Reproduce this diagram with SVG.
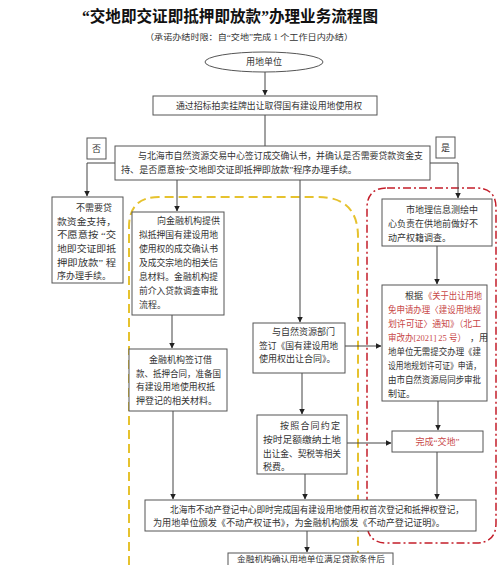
<svg xmlns="http://www.w3.org/2000/svg" width="500" height="565" viewBox="0 0 500 565">
<defs>
<marker id="ah" markerWidth="6" markerHeight="6" refX="5.5" refY="3" orient="auto" markerUnits="userSpaceOnUse"><path d="M0,0 L6,3 L0,6 z" fill="#222"/></marker>
<style>
text{font-family:"Liberation Serif","Noto Sans CJK SC",serif;fill:#333;font-size:9px}
.box{fill:#fff;stroke:#555;stroke-width:1}
.red{fill:#c84848}
.ln{fill:none;stroke:#444;stroke-width:1}
.arr{fill:none;stroke:#444;stroke-width:1;marker-end:url(#ah)}
</style>
</defs>
<rect width="500" height="565" fill="#fff"/>
<text x="230" y="22" text-anchor="middle" style="font-size:16px;font-weight:bold;fill:#111" textLength="296" lengthAdjust="spacingAndGlyphs">“交地即交证即抵押即放款”办理业务流程图</text>
<text x="249" y="40" text-anchor="middle" style="font-size:8.5px" textLength="208" lengthAdjust="spacingAndGlyphs">（承诺办结时限：自“交地”完成 1 个工作日内办结）</text>

<g id="frames">
<path d="M129,565 L129,227 Q129,197 159,197 L318,197 Q358,197 358,237 L358,565" fill="none" stroke="#e6c22e" stroke-width="2" stroke-dasharray="9,5"/>
<path d="M387,188 L476,188 Q496,188 496,208 L496,523 Q496,543 476,543 L387,543 Q367,543 367,523 L367,208 Q367,188 387,188 Z" fill="none" stroke="#c41e2a" stroke-width="1.5" stroke-dasharray="8,3,2,3"/>
</g>

<g id="connectors">
<line class="arr" x1="265" y1="72" x2="265" y2="95"/>
<line class="ln" x1="265" y1="115" x2="265" y2="146"/>
<polyline class="arr" points="115,163 87,163 87,196"/>
<line class="arr" x1="177" y1="180" x2="177" y2="211"/>
<line class="arr" x1="300" y1="180" x2="300" y2="322"/>
<polyline class="arr" points="430,163 458,163 458,198"/>
<line class="arr" x1="437" y1="246" x2="437" y2="284"/>
<line class="arr" x1="172" y1="315" x2="172" y2="348"/>
<line class="arr" x1="345" y1="346" x2="381" y2="346"/>
<line class="arr" x1="302" y1="373" x2="302" y2="414"/>
<line class="arr" x1="347" y1="443" x2="391" y2="443"/>
<line class="arr" x1="438" y1="401" x2="438" y2="430"/>
<line class="arr" x1="173" y1="411" x2="173" y2="499"/>
<line class="arr" x1="305" y1="474" x2="305" y2="499"/>
<line class="arr" x1="437" y1="452" x2="437" y2="499"/>
<line class="arr" x1="307" y1="531" x2="307" y2="552"/>
</g>

<g id="n-start">
<ellipse cx="264" cy="62" rx="59" ry="10" fill="#fff" stroke="#555"/>
<text x="264" y="65" text-anchor="middle">用地单位</text>
</g>

<g id="n-auction">
<rect class="box" x="153" y="96" width="224" height="19"/>
<text x="176" y="109" textLength="186" lengthAdjust="spacingAndGlyphs">通过招标拍卖挂牌出让取得国有建设用地使用权</text>
</g>

<g id="n-no">
<rect class="box" x="87" y="138" width="19" height="21"/>
<text x="96.5" y="152" text-anchor="middle">否</text>
</g>
<g id="n-yes">
<rect class="box" x="436" y="137" width="19" height="21"/>
<text x="445.5" y="151" text-anchor="middle">是</text>
</g>

<g id="n-confirm">
<rect class="box" x="115" y="146" width="315" height="34"/>
<text x="138" y="159" textLength="285" lengthAdjust="spacingAndGlyphs">与北海市自然资源交易中心签订成交确认书，并确认是否需要贷款资金支</text>
<text x="121" y="173" textLength="236" lengthAdjust="spacingAndGlyphs">持、是否愿意按“交地即交证即抵押即放款”程序办理手续。</text>
</g>

<g id="n-noloan">
<rect class="box" x="52" y="197" width="71" height="86"/>
<text x="76" y="211">不需要贷</text>
<text x="57" y="225" textLength="59" lengthAdjust="spacingAndGlyphs">款资金支持，</text>
<text x="57" y="238" textLength="59" lengthAdjust="spacingAndGlyphs">不愿意按 “交</text>
<text x="57" y="252" textLength="59" lengthAdjust="spacingAndGlyphs">地即交证即抵</text>
<text x="57" y="266" textLength="59" lengthAdjust="spacingAndGlyphs">押即放款” 程</text>
<text x="57" y="279">序办理手续。</text>
</g>

<g id="n-bank1">
<rect class="box" x="132" y="212" width="92" height="103"/>
<text x="157" y="224">向金融机构提供</text>
<text x="139" y="238" textLength="79" lengthAdjust="spacingAndGlyphs">拟抵押国有建设用地</text>
<text x="139" y="252" textLength="79" lengthAdjust="spacingAndGlyphs">使用权的成交确认书</text>
<text x="139" y="266" textLength="79" lengthAdjust="spacingAndGlyphs">及成交宗地的相关信</text>
<text x="139" y="280" textLength="79" lengthAdjust="spacingAndGlyphs">息材料。金融机构提</text>
<text x="139" y="294" textLength="79" lengthAdjust="spacingAndGlyphs">前介入贷款调查审批</text>
<text x="139" y="308">流程。</text>
</g>

<g id="n-bank2">
<rect class="box" x="129" y="349" width="98" height="62"/>
<text x="149" y="363">金融机构签订借</text>
<text x="136" y="377" textLength="85" lengthAdjust="spacingAndGlyphs">款、抵押合同，准备国</text>
<text x="136" y="390" textLength="79" lengthAdjust="spacingAndGlyphs">有建设用地使用权抵</text>
<text x="136" y="404">押登记的相关材料。</text>
</g>

<g id="n-contract">
<rect class="box" x="253" y="323" width="92" height="50"/>
<text x="272" y="335">与自然资源部门</text>
<text x="259" y="349" textLength="79" lengthAdjust="spacingAndGlyphs">签订《国有建设用地</text>
<text x="259" y="362">使用权出让合同》。</text>
</g>

<g id="n-pay">
<rect class="box" x="257" y="415" width="90" height="59"/>
<text x="280" y="429" textLength="60" lengthAdjust="spacing">按照合同约定</text>
<text x="263" y="443" textLength="78" lengthAdjust="spacingAndGlyphs">按时足额缴纳土地</text>
<text x="263" y="457" textLength="78" lengthAdjust="spacingAndGlyphs">出让金、契税等相关</text>
<text x="263" y="470">税费。</text>
</g>

<g id="n-survey">
<rect class="box" x="382" y="199" width="110" height="47"/>
<text x="406" y="213">市地理信息测绘中</text>
<text x="388" y="227" textLength="90" lengthAdjust="spacingAndGlyphs">心负责在供地前做好不</text>
<text x="388" y="241">动产权籍调查。</text>
</g>

<g id="n-permit">
<rect class="box" x="382" y="285" width="105" height="116"/>
<text x="405" y="299">根据</text>
<text x="424" y="299" class="red" textLength="58" lengthAdjust="spacingAndGlyphs">《关于出让用地</text>
<text x="388" y="313" class="red" textLength="93" lengthAdjust="spacingAndGlyphs">免申请办理〈建设用地规</text>
<text x="388" y="327" class="red" textLength="93" lengthAdjust="spacingAndGlyphs">划许可证〉通知》（北工</text>
<text x="388" y="341" class="red" textLength="78" lengthAdjust="spacingAndGlyphs">审改办[2021] 25 号）</text>
<text x="470" y="341">，用</text>
<text x="388" y="355" textLength="93" lengthAdjust="spacingAndGlyphs">地单位无需提交办理《建</text>
<text x="388" y="369" textLength="93" lengthAdjust="spacingAndGlyphs">设用地规划许可证》申请，</text>
<text x="388" y="383" textLength="93" lengthAdjust="spacingAndGlyphs">由市自然资源局同步审批</text>
<text x="388" y="397">制证。</text>
</g>

<g id="n-handover">
<rect class="box" x="392" y="431" width="91" height="21"/>
<text x="437.5" y="445" text-anchor="middle" class="red">完成“交地”</text>
</g>

<g id="n-register">
<rect class="box" x="145" y="500" width="331" height="31"/>
<text x="170" y="513" textLength="294" lengthAdjust="spacingAndGlyphs">北海市不动产登记中心即时完成国有建设用地使用权首次登记和抵押权登记，</text>
<text x="153" y="526" textLength="292" lengthAdjust="spacingAndGlyphs">为用地单位颁发《不动产权证书》，为金融机构颁发《不动产登记证明》。</text>
</g>

<g id="n-final">
<rect class="box" x="228" y="553" width="165" height="20"/>
<text x="237" y="562" style="font-size:8.5px" textLength="148" lengthAdjust="spacingAndGlyphs">金融机构确认用地单位满足贷款条件后</text>
</g>
</svg>
